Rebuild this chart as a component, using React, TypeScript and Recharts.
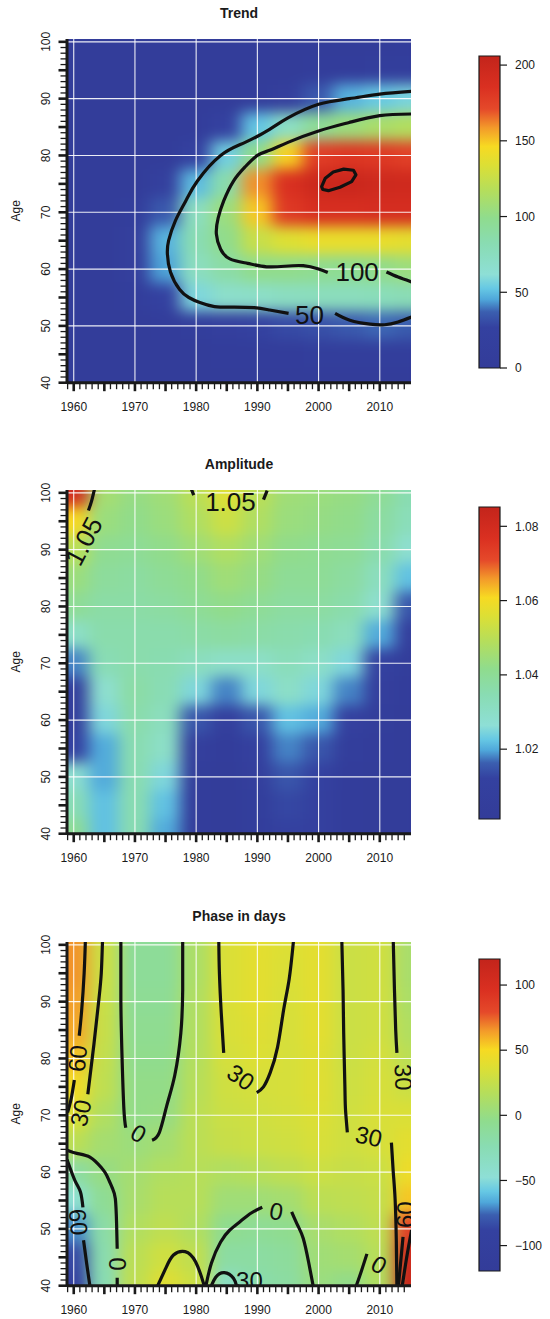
import React from "react";
import { ComposedChart, Scatter, Line, XAxis, YAxis, ReferenceLine, ReferenceArea } from "recharts";

// grid of cell centres (years across, ages down)
const YEARS = [1960, 1965, 1970, 1975, 1980, 1985, 1990, 1995, 2000, 2005, 2010, 2015];
const AGES = [100, 95, 90, 85, 80, 75, 70, 65, 60, 55, 50, 45, 40];

// values, one row per age
const TREND = [
  [3, 3, 3, 3, 3, 3, 3, 3, 3, 4, 5, 6],
  [3, 3, 3, 3, 3, 3, 3, 4, 6, 8, 10, 12],
  [3, 3, 3, 3, 3, 4, 6, 15, 35, 48, 53, 57],
  [3, 3, 3, 3, 8, 25, 52, 72, 95, 105, 112, 116],
  [3, 3, 3, 5, 25, 55, 100, 148, 178, 182, 180, 176],
  [3, 3, 5, 20, 50, 85, 160, 186, 198, 200, 196, 195],
  [3, 3, 12, 35, 75, 105, 150, 180, 188, 188, 190, 190],
  [3, 3, 15, 48, 82, 100, 125, 135, 140, 140, 140, 138],
  [3, 3, 15, 45, 75, 88, 100, 100, 98, 97, 100, 105],
  [3, 3, 10, 25, 58, 68, 70, 74, 76, 76, 78, 80],
  [3, 3, 3, 6, 12, 18, 25, 30, 32, 35, 38, 36],
  [3, 3, 3, 3, 5, 6, 8, 8, 10, 10, 10, 10],
  [3, 3, 3, 3, 3, 3, 3, 3, 3, 3, 3, 3],
];

const AMPLITUDE = [
  [1.08, 1.046, 1.043, 1.045, 1.05, 1.056, 1.05, 1.045, 1.044, 1.043, 1.04, 1.035],
  [1.061, 1.044, 1.042, 1.044, 1.048, 1.053, 1.048, 1.044, 1.043, 1.042, 1.038, 1.033],
  [1.05, 1.041, 1.04, 1.042, 1.045, 1.048, 1.045, 1.042, 1.041, 1.04, 1.036, 1.028],
  [1.044, 1.039, 1.038, 1.04, 1.042, 1.045, 1.043, 1.04, 1.04, 1.038, 1.032, 1.022],
  [1.04, 1.037, 1.037, 1.038, 1.04, 1.042, 1.04, 1.038, 1.038, 1.036, 1.028, 1.015],
  [1.03, 1.036, 1.036, 1.036, 1.037, 1.038, 1.037, 1.036, 1.035, 1.032, 1.02, 1.008],
  [1.018, 1.034, 1.036, 1.035, 1.032, 1.03, 1.03, 1.033, 1.03, 1.025, 1.012, 1.005],
  [1.006, 1.028, 1.037, 1.034, 1.025, 1.018, 1.025, 1.03, 1.025, 1.018, 1.008, 1.004],
  [1.006, 1.025, 1.036, 1.032, 1.015, 1.008, 1.015, 1.022, 1.02, 1.01, 1.005, 1.003],
  [1.012, 1.02, 1.035, 1.03, 1.008, 1.004, 1.01, 1.018, 1.015, 1.006, 1.004, 1.003],
  [1.028, 1.02, 1.035, 1.025, 1.005, 1.003, 1.007, 1.015, 1.012, 1.004, 1.003, 1.003],
  [1.034, 1.022, 1.035, 1.022, 1.004, 1.003, 1.006, 1.013, 1.011, 1.004, 1.003, 1.003],
  [1.04, 1.022, 1.035, 1.02, 1.004, 1.003, 1.006, 1.012, 1.011, 1.004, 1.003, 1.003],
];

const PHASE = [
  [66, 28, -10, -10, 12, 35, 40, 36, 40, 28, 30, 10],
  [66, 28, -10, -10, 12, 35, 40, 35, 40, 28, 30, 10],
  [64, 27, -8, -8, 14, 35, 40, 34, 40, 28, 30, 12],
  [62, 26, -6, -6, 15, 34, 38, 33, 40, 28, 30, 15],
  [56, 24, -4, -4, 16, 32, 36, 33, 38, 28, 32, 20],
  [48, 22, -2, -2, 18, 30, 32, 33, 38, 29, 33, 28],
  [36, 15, -2, 0, 20, 28, 30, 32, 36, 30, 34, 35],
  [20, 8, 3, 8, 20, 26, 28, 30, 34, 30, 33, 40],
  [-15, 0, 8, 15, 18, 15, 18, 22, 28, 26, 28, 45],
  [-45, -8, 10, 18, 18, 5, 5, 8, 20, 22, 25, 55],
  [-70, -18, 15, 22, 15, -5, -8, -5, 10, 15, 22, 85],
  [-85, -22, 20, 30, 22, -15, -15, -12, 5, 8, 18, 110],
  [-95, -25, 22, 38, 28, -35, -20, -15, 2, -3, 15, 115],
];

// contour lines as [year, age] points, split where the labels sit
const TREND_LINES = [
  [[2015.3, 91.3], [2010, 90.8], [2005, 90], [2000, 89], [1995, 86.6], [1992, 84.6], [1988, 82.3], [1984, 80], [1980.2, 75.5], [1978.3, 72], [1976.6, 68.5], [1975.5, 65], [1975.3, 62.7], [1975.8, 59.5], [1977.3, 56.4], [1978.8, 55], [1980.6, 54.1], [1983, 53.4], [1986, 53.3], [1989.5, 53.2], [1992, 52.8], [1995.1, 52.2]],
  [[2002.7, 52.2], [2005.1, 51], [2008.4, 50.3], [2010.8, 50.2], [2013, 50.7], [2015.3, 51.6]],
  [[2015.3, 87.3], [2010, 87], [2005, 85.8], [2000, 84.3], [1995, 82.3], [1992, 80.9], [1990, 80], [1988, 78], [1986.1, 75.5], [1984.5, 72], [1983.6, 69], [1983.3, 66.2], [1984, 63.5], [1985.5, 61.8], [1988.4, 61], [1991.5, 60.4], [1994.5, 60.5], [1997.5, 60.6], [2000, 60], [2001.5, 59.4]],
  [[2011.1, 59.5], [2013, 58.6], [2015.3, 57.7]],
];
const TREND_LOOP = [[2000.5, 74.5], [2001.1, 76], [2002.4, 77.1], [2004.1, 77.6], [2005.7, 77.4], [2006.1, 76.6], [2005.4, 75.4], [2003.5, 74.4], [2001.6, 73.8], [2000.7, 74]];
const TREND_LABELS = [
  { x: 1998.5, y: 51.9, text: "50", angle: 0 },
  { x: 2006.3, y: 59.5, text: "100", angle: 0 },
];

const AMP_LINES = [
  [[1963.4, 100.7], [1962.9, 98.5], [1962.4, 96.9]],
  [[1979.2, 100.7], [1979.6, 99.6]],
  [[1991.6, 100.4], [1991.0, 98.8]],
];
const AMP_LABELS = [
  { x: 1961.6, y: 91.5, text: "1.05", angle: -62 },
  { x: 1985.6, y: 98.5, text: "1.05", angle: 0 },
];

const PHASE_LINES = [
  [[1961.9, 100.7], [1961.7, 95], [1961.3, 88.5], [1960.9, 84]],
  [[1960.1, 76.2], [1959.6, 73], [1959.0, 70.5]],
  [[1964.7, 100.7], [1964.5, 95], [1964.1, 90.3], [1963.3, 82.5], [1962.3, 73.7]],
  [[1967.7, 100.7], [1967.7, 90], [1967.9, 80], [1968.2, 71], [1968.5, 67.8]],
  [[1972.8, 65.6], [1974, 67], [1975.2, 71.7], [1976.5, 77], [1977.5, 84.5], [1977.8, 92], [1977.8, 100.7]],
  [[1983.7, 100.7], [1983.8, 95], [1984.1, 88], [1984.5, 81]],
  [[1989.9, 74], [1991, 75], [1992.1, 77.5], [1993.3, 82], [1994.3, 88.6], [1995.2, 94], [1995.9, 100.7]],
  [[2003.8, 100.7], [2004, 92], [2004.1, 84.6], [2004.3, 75], [2004.4, 71], [2004.7, 67]],
  [[2011.9, 65.2], [2012.2, 60], [2012.5, 55.3], [2012.7, 48], [2012.8, 39.5]],
  [[2012.2, 100.7], [2012.4, 92], [2012.6, 85], [2012.8, 81]],
  [[1958.8, 63.9], [1960.5, 63.3], [1962.7, 62.6], [1964.5, 60.8], [1965.4, 59.4], [1966.3, 57.2], [1966.8, 55.3], [1967.0, 51], [1967.1, 46.5]],
  [[1967.1, 41.4], [1967.1, 39.5]],
  [[1958.9, 62.2], [1960.2, 58.5], [1961.1, 56.5], [1961.5, 53.8]],
  [[1961.6, 48], [1962.1, 44], [1962.7, 39.5]],
  [[1973.5, 39.5], [1975, 43], [1976.3, 45.4], [1978.2, 46], [1979.9, 44.2], [1981.2, 40.4], [1981.3, 39.5]],
  [[1981.5, 39.5], [1982.5, 44], [1984, 47.7], [1985.5, 49.8], [1987.2, 51.3], [1989, 52.8], [1990.8, 53.8]],
  [[1995.6, 53], [1996.6, 50.6], [1997.5, 48.3], [1998.4, 44], [1999.2, 39.5]],
  [[1982.3, 39.5], [1983.2, 41.5], [1984.6, 42.3], [1986.1, 41.3], [1986.7, 39.5]],
  [[2006, 39.5], [2007, 42.6], [2007.9, 45.6]],
  [[2013.8, 48.6], [2013.4, 44], [2013.0, 39.5]],
  [[2015.2, 49.8], [2014.4, 45], [2013.6, 39.5]],
];
const PHASE_LABELS = [
  { x: 1960.6, y: 80, text: "60", angle: -85 },
  { x: 1961.1, y: 70.4, text: "30", angle: -78 },
  { x: 1970.6, y: 66.8, text: "0", angle: 30 },
  { x: 1987.3, y: 76.7, text: "30", angle: 35 },
  { x: 2008.2, y: 66.3, text: "30", angle: 12 },
  { x: 2013.9, y: 76.7, text: "30", angle: 88 },
  { x: 1967.1, y: 43.8, text: "0", angle: -90 },
  { x: 1960.8, y: 51.2, text: "60", angle: 85 },
  { x: 1993.1, y: 53.1, text: "0", angle: 10 },
  { x: 1988.7, y: 41.0, text: "30", angle: 0 },
  { x: 2009.9, y: 43.7, text: "0", angle: 30 },
  { x: 2014.1, y: 52.5, text: "60", angle: -88 },
];

const TREND_TICKS = [0, 50, 100, 150, 200];
const AMP_TICKS = [1.02, 1.04, 1.06, 1.08];
const PHASE_TICKS = [-100, -50, 0, 50, 100];

const GRID_YEARS = [1960, 1970, 1980, 1990, 2000, 2010];
const GRID_AGES = [50, 60, 70, 80, 90, 100];
const YEAR_TICKS = Array.from({ length: 56 }, (_, i) => 1959 + i);
const AGE_TICKS = Array.from({ length: 61 }, (_, i) => 40 + i);

// blue - cyan - green - yellow - red scale
const PALETTE: [number, string][] = [
  [0.0, "#333c99"],
  [0.13, "#3441a0"],
  [0.18, "#3b5fb0"],
  [0.22, "#4fa7da"],
  [0.255, "#66c8e4"],
  [0.3, "#8edfd6"],
  [0.4, "#89dcb2"],
  [0.48, "#8fdc8e"],
  [0.57, "#b5de5b"],
  [0.65, "#dcdf35"],
  [0.71, "#f7da22"],
  [0.77, "#f39a2a"],
  [0.83, "#e5492a"],
  [0.9, "#da3021"],
  [1.0, "#c3241b"],
];

const FONT = "'Liberation Sans', Arial, Helvetica, sans-serif";
const INK = "#1a1a1a";

const CHART_W = 550;
const CHART_H = 452;
const PLOT_L = 67;
const PLOT_R = 411;
const PLOT_T = 39;
const PLOT_B = 382.7;
const X_DOMAIN = [1958.9, 2015.1];
const Y_DOMAIN = [40, 100.5];
const CELL_W = (5 * (PLOT_R - PLOT_L)) / (X_DOMAIN[1] - X_DOMAIN[0]) + 1;
const CELL_H = (5 * (PLOT_B - PLOT_T)) / (Y_DOMAIN[1] - Y_DOMAIN[0]) + 1;

function hex(c: string) {
  return [1, 3, 5].map((i) => parseInt(c.slice(i, i + 2), 16));
}

function colorAt(t: number) {
  const v = Math.max(0, Math.min(1, t));
  for (let i = 1; i < PALETTE.length; i++) {
    const [t0, c0] = PALETTE[i - 1];
    const [t1, c1] = PALETTE[i];
    if (v <= t1) {
      const f = (v - t0) / (t1 - t0);
      const a = hex(c0);
      const b = hex(c1);
      const m = a.map((x, k) => Math.round(x + (b[k] - x) * f));
      return `rgb(${m[0]},${m[1]},${m[2]})`;
    }
  }
  return PALETTE[PALETTE.length - 1][1];
}

function buildCells(grid: number[][], min: number, max: number) {
  const out: { x: number; y: number; fill: string }[] = [];
  AGES.forEach((age, i) =>
    YEARS.forEach((yr, j) => out.push({ x: yr, y: age, fill: colorAt((grid[i][j] - min) / (max - min)) }))
  );
  return out;
}

const HeatCell = (p: any) => (
  <rect x={p.cx - CELL_W / 2} y={p.cy - CELL_H / 2} width={CELL_W} height={CELL_H} fill={p.payload.fill} />
);

const AgeTick = (p: any) => {
  const { x, y, payload } = p;
  const v = payload.value;
  const major = v % 5 === 0;
  const lx = x - 17;
  return (
    <g>
      <line x1={x} x2={x - (major ? 8.5 : 6.5)} y1={y} y2={y} stroke={INK} strokeWidth={major ? 2.6 : 1.3} />
      {v % 10 === 0 && (
        <text x={lx} y={y} transform={`rotate(-90 ${lx} ${y})`} textAnchor="middle" fontSize={12} fill={INK} fontFamily={FONT}>
          {v}
        </text>
      )}
    </g>
  );
};

const YearTick = (p: any) => {
  const { x, y, payload } = p;
  const v = payload.value;
  const major = v % 5 === 0;
  return (
    <g>
      <line x1={x} x2={x} y1={y} y2={y + (major ? 8.5 : 6.5)} stroke={INK} strokeWidth={major ? 2.6 : 1.3} />
      {v % 10 === 0 && (
        <text x={x} y={y + 28} textAnchor="middle" fontSize={12} fill={INK} fontFamily={FONT}>
          {v}
        </text>
      )}
    </g>
  );
};

const makeLabel = (size: number) => (p: any) => {
  const { cx, cy, payload } = p;
  return (
    <text
      x={cx}
      y={cy}
      dy="0.36em"
      transform={`rotate(${payload.angle} ${cx} ${cy})`}
      textAnchor="middle"
      fontSize={size}
      fill="#111"
      fontFamily={FONT}
    >
      {payload.text}
    </text>
  );
};

type PanelProps = {
  title: string;
  top: number;
  grid: number[][];
  min: number;
  max: number;
  ticks: number[];
  fmt: (v: number) => string;
  lines: number[][][];
  loops: number[][][];
  labels: { x: number; y: number; text: string; angle: number }[];
  labelSize: number;
};

function Panel({ title, top, grid, min, max, ticks, fmt, lines, loops, labels, labelSize }: PanelProps) {
  const cells = buildCells(grid, min, max);
  const LabelShape = makeLabel(labelSize);
  return (
    <>
      <div style={{ position: "absolute", left: 0, top }}>
        <ComposedChart
          width={CHART_W}
          height={CHART_H}
          margin={{ top: PLOT_T, left: PLOT_L - 30, right: CHART_W - PLOT_R, bottom: CHART_H - PLOT_B - 30 }}
        >
          <Scatter data={cells} className="heat" shape={HeatCell} isAnimationActive={false} zIndex={100} />
          {GRID_YEARS.map((g) => (
            <ReferenceLine key={`gx${g}`} x={g} stroke="#fff" strokeWidth={1.1} strokeOpacity={0.9} zIndex={200} />
          ))}
          {GRID_AGES.map((g) => (
            <ReferenceLine key={`gy${g}`} y={g} stroke="#fff" strokeWidth={1.1} strokeOpacity={0.9} zIndex={200} />
          ))}
          {lines.map((seg, i) => (
            <Line
              key={`c${i}`}
              data={seg.map(([x, y]) => ({ x, y }))}
              dataKey="y"
              type="natural"
              stroke="#111"
              strokeWidth={3.2}
              dot={false}
              activeDot={false}
              isAnimationActive={false}
              zIndex={300}
            />
          ))}
          {loops.map((seg, i) => (
            <Line
              key={`l${i}`}
              data={seg.map(([x, y]) => ({ x, y }))}
              dataKey="y"
              type="linearClosed"
              stroke="#111"
              strokeWidth={3.2}
              strokeLinejoin="round"
              dot={false}
              activeDot={false}
              isAnimationActive={false}
              zIndex={300}
            />
          ))}
          <Scatter data={labels} shape={LabelShape} isAnimationActive={false} zIndex={350} />
          <XAxis
            type="number"
            dataKey="x"
            domain={X_DOMAIN}
            allowDataOverflow
            ticks={YEAR_TICKS}
            interval={0}
            height={30}
            tickSize={0}
            tickMargin={0}
            tickLine={false}
            axisLine={{ stroke: INK, strokeWidth: 3 }}
            tick={YearTick}
          />
          <YAxis
            type="number"
            dataKey="y"
            domain={Y_DOMAIN}
            allowDataOverflow
            ticks={AGE_TICKS}
            interval={0}
            width={30}
            tickSize={0}
            tickMargin={0}
            tickLine={false}
            axisLine={{ stroke: INK, strokeWidth: 3 }}
            tick={AgeTick}
          />
        </ComposedChart>
      </div>
      <div style={{ position: "absolute", left: 470, top }}>
        <ComposedChart
          width={80}
          height={CHART_H}
          data={[{ x: 0, y: min }, { x: 1, y: max }]}
          margin={{ top: 56, right: 0, bottom: CHART_H - 368, left: 9 }}
        >
          <XAxis type="number" dataKey="x" domain={[0, 1]} hide height={0} />
          <YAxis
            type="number"
            dataKey="y"
            orientation="right"
            domain={[min, max]}
            allowDataOverflow
            ticks={ticks}
            interval={0}
            width={50}
            tickSize={7}
            tickMargin={8}
            axisLine={false}
            tickLine={{ stroke: INK, strokeWidth: 1.2 }}
            tick={{ fontSize: 12, fill: INK, fontFamily: FONT }}
            tickFormatter={fmt}
          />
          <ReferenceArea
            x1={0}
            x2={1}
            y1={min}
            y2={max}
            fill="url(#cbGrad)"
            fillOpacity={1}
            stroke={INK}
            strokeWidth={1.2}
          />
        </ComposedChart>
      </div>
      <svg width={CHART_W} height={CHART_H} style={{ position: "absolute", left: 0, top, pointerEvents: "none" }}>
        <text x={(PLOT_L + PLOT_R) / 2} y={17.5} textAnchor="middle" fontSize={14} fontWeight="bold" fill={INK} fontFamily={FONT}>
          {title}
        </text>
        <text
          x={20}
          y={(PLOT_T + PLOT_B) / 2}
          transform={`rotate(-90 20 ${(PLOT_T + PLOT_B) / 2})`}
          textAnchor="middle"
          fontSize={12}
          fill={INK}
          fontFamily={FONT}
        >
          Age
        </text>
      </svg>
    </>
  );
}

const minus = (v: number) => (v < 0 ? `\u2212${Math.abs(v)}` : String(v));

export default function App() {
  return (
    <div style={{ position: "absolute", left: 0, top: 0, width: 550, height: 1319, background: "#fff" }}>
      <style>{`.heat { filter: url(#heatBlur); }`}</style>
      <svg width={0} height={0} style={{ position: "absolute" }}>
        <defs>
          <filter id="heatBlur" x="-10%" y="-10%" width="120%" height="120%" colorInterpolationFilters="sRGB">
            <feGaussianBlur stdDeviation="8 7" />
            <feComponentTransfer>
              <feFuncA type="table" tableValues="1 1" />
            </feComponentTransfer>
          </filter>
          <linearGradient id="cbGrad" x1="0" y1="1" x2="0" y2="0">
            {PALETTE.map(([t, c]) => (
              <stop key={t} offset={t} stopColor={c} />
            ))}
          </linearGradient>
        </defs>
      </svg>
      <Panel
        title="Trend"
        top={0}
        grid={TREND}
        min={0}
        max={206}
        ticks={TREND_TICKS}
        fmt={(v) => String(v)}
        lines={TREND_LINES}
        loops={[TREND_LOOP]}
        labels={TREND_LABELS}
        labelSize={26}
      />
      <Panel
        title="Amplitude"
        top={451.3}
        grid={AMPLITUDE}
        min={1.0012}
        max={1.0852}
        ticks={AMP_TICKS}
        fmt={(v) => v.toFixed(2)}
        lines={AMP_LINES}
        loops={[]}
        labels={AMP_LABELS}
        labelSize={26}
      />
      <Panel
        title="Phase in days"
        top={903.2}
        grid={PHASE}
        min={-119.5}
        max={120}
        ticks={PHASE_TICKS}
        fmt={minus}
        lines={PHASE_LINES}
        loops={[]}
        labels={PHASE_LABELS}
        labelSize={24}
      />
    </div>
  );
}
